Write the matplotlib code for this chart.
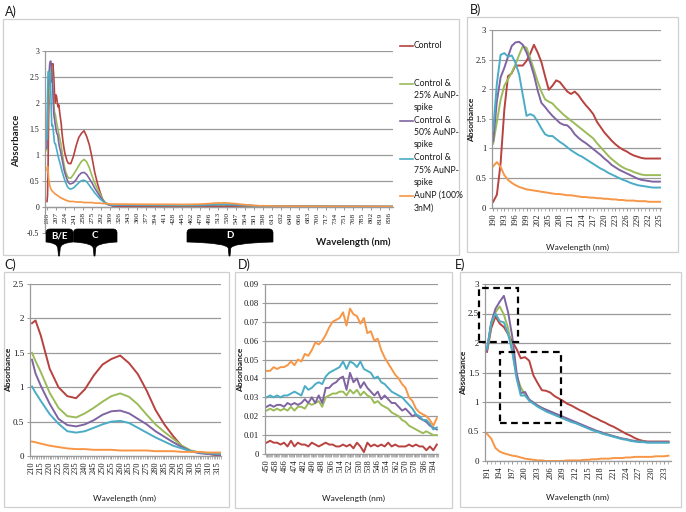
import matplotlib
matplotlib.use("Agg")
import matplotlib.pyplot as plt
from matplotlib.patches import Rectangle, PathPatch
from matplotlib.path import Path
from matplotlib.ticker import FuncFormatter, MultipleLocator

# ---------------- data ----------------
series_names = ['Control', 'Control &\n25% AuNP-\nspike', 'Control &\n50% AuNP-\nspike',
                'Control &\n75% AuNP-\nspike', 'AuNP (100%\n3nM)']
colors = ['#B8423F', '#9BBB59', '#8064A2', '#4BACC6', '#F79646']

# panel B : 190-235 nm, 1 nm steps
wl_B = list(range(190, 236))
B_control = [0.10, 0.22, 0.75, 1.65, 2.22, 2.27, 2.40, 2.40, 2.40, 2.48,
             2.60, 2.75, 2.62, 2.46, 2.22, 1.99, 2.06, 2.15, 2.12, 2.04,
             1.96, 1.92, 1.96, 1.90, 1.81, 1.73, 1.66, 1.58, 1.45, 1.36,
             1.27, 1.20, 1.13, 1.07, 1.02, 0.98, 0.95, 0.91, 0.88, 0.86,
             0.84, 0.83, 0.83, 0.83, 0.83, 0.83]
B_25 = [1.08, 1.45, 1.82, 2.06, 2.17, 2.28, 2.42, 2.58, 2.73, 2.70,
        2.52, 2.33, 2.13, 1.96, 1.83, 1.79, 1.76, 1.69, 1.63, 1.57,
        1.52, 1.47, 1.42, 1.37, 1.32, 1.27, 1.22, 1.17, 1.09, 1.02,
        0.95, 0.88, 0.82, 0.77, 0.72, 0.68, 0.65, 0.63, 0.60, 0.58,
        0.56, 0.55, 0.55, 0.55, 0.55, 0.55]
B_50 = [1.12, 1.80, 2.20, 2.36, 2.55, 2.73, 2.79, 2.80, 2.75, 2.62,
        2.45, 2.24, 1.98, 1.77, 1.70, 1.62, 1.55, 1.49, 1.43, 1.40,
        1.39, 1.33, 1.24, 1.18, 1.13, 1.09, 1.04, 0.99, 0.94, 0.89,
        0.83, 0.78, 0.72, 0.68, 0.64, 0.61, 0.58, 0.55, 0.52, 0.49,
        0.47, 0.46, 0.45, 0.44, 0.44, 0.44]
B_75 = [1.30, 2.10, 2.58, 2.61, 2.55, 2.57, 2.45, 2.25, 1.90, 1.55,
        1.58, 1.55, 1.45, 1.34, 1.24, 1.21, 1.21, 1.16, 1.11, 1.07,
        1.02, 0.97, 0.93, 0.89, 0.86, 0.82, 0.78, 0.74, 0.70, 0.66,
        0.63, 0.59, 0.56, 0.53, 0.50, 0.47, 0.45, 0.42, 0.40, 0.38,
        0.37, 0.36, 0.35, 0.34, 0.34, 0.34]
B_aunp = [0.70, 0.77, 0.69, 0.55, 0.47, 0.42, 0.38, 0.35, 0.33, 0.31,
          0.30, 0.29, 0.28, 0.27, 0.26, 0.25, 0.24, 0.23, 0.23, 0.22,
          0.21, 0.21, 0.20, 0.19, 0.18, 0.18, 0.17, 0.17, 0.16, 0.16,
          0.15, 0.15, 0.14, 0.14, 0.13, 0.13, 0.12, 0.12, 0.12, 0.11,
          0.11, 0.11, 0.10, 0.10, 0.10, 0.10]

# panel C : 210-317 nm
wl_C = [210, 212, 215, 220, 225, 230, 235, 240, 245, 250, 255, 260,
        265, 270, 275, 280, 285, 290, 295, 300, 305, 310, 315, 317]
C_control = [1.93, 1.97, 1.75, 1.27, 1.00, 0.87, 0.84, 0.97, 1.17, 1.33, 1.41, 1.46,
             1.35, 1.19, 0.95, 0.67, 0.46, 0.29, 0.14, 0.07, 0.05, 0.03, 0.01, 0.01]
C_25 = [1.50, 1.38, 1.22, 0.92, 0.70, 0.58, 0.56, 0.62, 0.70, 0.79, 0.87, 0.91,
        0.86, 0.75, 0.60, 0.46, 0.35, 0.25, 0.15, 0.08, 0.05, 0.04, 0.03, 0.03]
C_50 = [1.40, 1.20, 1.02, 0.76, 0.54, 0.45, 0.43, 0.46, 0.52, 0.60, 0.65, 0.66,
        0.62, 0.54, 0.46, 0.36, 0.28, 0.20, 0.13, 0.07, 0.04, 0.03, 0.02, 0.02]
C_75 = [1.01, 0.92, 0.80, 0.61, 0.47, 0.36, 0.34, 0.36, 0.41, 0.46, 0.50, 0.51,
        0.48, 0.41, 0.34, 0.27, 0.21, 0.15, 0.11, 0.07, 0.05, 0.04, 0.03, 0.03]
C_aunp = [0.21, 0.20, 0.18, 0.15, 0.13, 0.11, 0.10, 0.10, 0.09, 0.09, 0.09, 0.08,
          0.08, 0.08, 0.08, 0.07, 0.07, 0.07, 0.06, 0.06, 0.06, 0.05, 0.05, 0.05]

# panel D : 450-597 nm, 3 nm steps
wl_D = list(range(450, 598, 3))
D_control = [.006, .007, .006, .006, .005, .006, .004, .007, .004, .006,
             .005, .005, .004, .006, .005, .004, .005, .006, .005, .005,
             .004, .004, .005, .004, .005, .003, .006, .004, .001, .006,
             .004, .005, .004, .005, .004, .006, .004, .005, .004, .004,
             .004, .005, .004, .005, .004, .004, .002, .004, .002, .005]
D_25 = [.023, .024, .023, .024, .023, .024, .023, .025, .023, .025,
        .025, .024, .027, .026, .027, .028, .025, .030, .031, .032,
        .032, .033, .033, .031, .034, .032, .034, .031, .033, .031,
        .030, .027, .028, .026, .025, .024, .022, .021, .020, .018,
        .017, .015, .014, .013, .012, .011, .012, .011, .010, .010]
D_50 = [.025, .026, .025, .026, .026, .025, .027, .026, .027, .026,
        .027, .029, .027, .030, .027, .031, .027, .035, .035, .037,
        .038, .040, .041, .034, .043, .038, .040, .035, .038, .035,
        .033, .031, .033, .029, .031, .029, .027, .027, .025, .023,
        .024, .022, .020, .021, .019, .018, .017, .015, .014, .013]
D_75 = [.030, .031, .030, .031, .030, .031, .031, .032, .033, .032,
        .031, .036, .034, .035, .037, .038, .037, .041, .043, .044,
        .045, .046, .049, .045, .049, .048, .046, .049, .045, .044,
        .043, .040, .041, .038, .037, .035, .033, .032, .031, .030,
        .028, .026, .024, .021, .020, .018, .018, .016, .013, .014]
D_aunp = [.044, .044, .046, .045, .046, .046, .047, .049, .047, .050,
          .049, .053, .052, .055, .059, .058, .060, .063, .067, .070,
          .071, .072, .075, .068, .077, .074, .073, .069, .072, .064,
          .065, .060, .061, .055, .051, .048, .045, .042, .040, .037,
          .035, .030, .028, .024, .022, .021, .020, .018, .015, .019]

# flat stretches of panel A outside the zoomed windows
tail1_wl = [330, 360, 400, 440]
tail1 = [[0.010, 0.010, 0.008, 0.006], [0.030, 0.028, 0.026, 0.024],
         [0.030, 0.029, 0.027, 0.025], [0.035, 0.033, 0.031, 0.030],
         [0.050, 0.048, 0.046, 0.045]]
tail2_wl = [620, 680, 760, 844]
tail2 = [[0.004, 0.003, 0.002, 0.001], [0.008, 0.006, 0.004, 0.002],
         [0.009, 0.007, 0.004, 0.002], [0.010, 0.007, 0.005, 0.003],
         [0.012, 0.008, 0.005, 0.003]]

# panel E : 191-234 nm, 1 nm steps (replicate run)
wl_E = list(range(191, 235))
E_control = [1.85, 2.25, 2.45, 2.33, 2.27, 2.15, 2.02, 1.90, 1.74, 1.76,
             1.70, 1.45, 1.32, 1.20, 1.19, 1.16, 1.10, 1.06, 1.02, 0.97,
             0.94, 0.90, 0.86, 0.83, 0.79, 0.75, 0.72, 0.68, 0.65, 0.61,
             0.58, 0.54, 0.50, 0.46, 0.43, 0.39, 0.36, 0.34, 0.33, 0.33,
             0.33, 0.33, 0.33, 0.33]
E_25 = [1.88, 2.32, 2.52, 2.62, 2.48, 2.25, 1.85, 1.45, 1.25, 1.12,
        1.04, 0.99, 0.94, 0.90, 0.86, 0.83, 0.80, 0.77, 0.74, 0.71,
        0.68, 0.65, 0.62, 0.59, 0.56, 0.53, 0.51, 0.48, 0.46, 0.44,
        0.42, 0.40, 0.38, 0.37, 0.35, 0.34, 0.33, 0.33, 0.32, 0.32,
        0.32, 0.32, 0.32, 0.32]
E_50 = [1.88, 2.35, 2.58, 2.70, 2.80, 2.52, 2.10, 1.50, 1.15, 1.17,
        1.04, 0.99, 0.94, 0.90, 0.87, 0.84, 0.81, 0.78, 0.75, 0.72,
        0.69, 0.66, 0.63, 0.60, 0.57, 0.54, 0.51, 0.49, 0.46, 0.44,
        0.42, 0.40, 0.38, 0.37, 0.35, 0.34, 0.33, 0.33, 0.32, 0.32,
        0.32, 0.32, 0.32, 0.32]
E_75 = [1.90, 2.35, 2.50, 2.37, 2.35, 2.15, 1.85, 1.40, 1.11, 1.11,
        1.02, 0.97, 0.92, 0.88, 0.84, 0.81, 0.78, 0.75, 0.72, 0.69,
        0.66, 0.64, 0.61, 0.58, 0.55, 0.52, 0.50, 0.47, 0.45, 0.43,
        0.41, 0.39, 0.37, 0.36, 0.34, 0.33, 0.32, 0.32, 0.31, 0.31,
        0.31, 0.31, 0.31, 0.31]
E_aunp = [0.46, 0.38, 0.22, 0.16, 0.13, 0.11, 0.09, 0.08, 0.06, 0.04,
          0.03, 0.02, 0.01, 0.01, 0.00, 0.00, 0.00, 0.00, 0.00, 0.01,
          0.01, 0.01, 0.01, 0.02, 0.02, 0.03, 0.03, 0.04, 0.04, 0.04,
          0.05, 0.05, 0.05, 0.06, 0.06, 0.07, 0.07, 0.07, 0.07, 0.07,
          0.08, 0.08, 0.08, 0.09]

# dashed zoom boxes drawn on panel E: (x0, x1, y0, y1)
E_boxes = [(189.0, 198.4, 2.01, 2.94), (194.0, 208.5, 0.64, 1.84)]

# callout labels under panel A: (label, left px, right px, pointer px)
callouts = [('B/E', 46, 73, 59), ('C', 73.5, 117, 94.5), ('D', 187, 273, 229.5)]

# ---------------- styling ----------------
W, H = 686, 512
GRID = '#9a9a9a'
FRAME = '#cfcfcf'
TXT = '#1a1a1a'
SANS = ['Lato', 'DejaVu Sans']
SERIF = ['Liberation Serif', 'DejaVu Serif']

fig = plt.figure(figsize=(W / 100, H / 100), dpi=100)


def add_ax(x0, y0, x1, y1):
    return fig.add_axes([x0 / W, 1 - y1 / H, (x1 - x0) / W, (y1 - y0) / H])


def frame(x0, y0, x1, y1):
    fig.add_artist(Rectangle((x0 / W, 1 - y1 / H), (x1 - x0) / W, (y1 - y0) / H,
                             transform=fig.transFigure, fill=False,
                             edgecolor=FRAME, lw=0.9))


def ftext(x, y, s, **kw):
    fig.text(x / W, 1 - y / H, s, **kw)


def style(ax, xlim, ylim, xticks, yticks, minor=None, xfs=6, yfs=6.5, xaxis_at_zero=False):
    if xaxis_at_zero:
        ax.spines['bottom'].set_position(('data', 0))
    ax.set_xlim(xlim)
    ax.set_ylim(ylim)
    ax.set_xticks(xticks)
    ax.set_xticklabels([str(t) for t in xticks], rotation=90,
                       fontsize=xfs, family=SERIF, color=TXT)
    ax.set_yticks(yticks)
    ax.yaxis.set_major_formatter(FuncFormatter(lambda v, p: '%g' % round(v, 4)))
    for lab in ax.get_yticklabels():
        lab.set_family(SERIF)
        lab.set_fontsize(yfs)
        lab.set_color(TXT)
    ax.grid(axis='y', color=GRID, lw=0.9)
    ax.set_axisbelow(True)
    ax.spines['top'].set_visible(False)
    ax.spines['right'].set_visible(False)
    for s in ['left', 'bottom']:
        ax.spines[s].set_color(GRID)
        ax.spines[s].set_linewidth(0.9)
    ax.tick_params(which='major', color=GRID, length=2.5, width=0.7, pad=1.5)
    if minor:
        ax.xaxis.set_minor_locator(MultipleLocator(minor))
        ax.tick_params(which='minor', axis='x', color=GRID, length=2, width=0.5)
    ax.patch.set_alpha(0)


def plot_series(ax, wl, series, lw=1.4):
    for vals, c in zip(series, colors):
        ax.plot(wl, vals, color=c, lw=lw, solid_joinstyle='round')


def ylab(x, y, size=6):
    ftext(x, y, 'Absorbance', fontsize=size, fontweight='bold', family=SANS, color=TXT,
          rotation=90, ha='center', va='center')


def xlab(x, y):
    ftext(x, y, 'Wavelength (nm)', fontsize=6, family=SANS, color=TXT,
          ha='center', va='center')


# ---------------- panel A ----------------
frame(3, 19, 459, 255)
ftext(5, 12, 'A)', fontsize=9, family=SANS, color=TXT, va='center')
k = wl_C.index(240)
wl_A = wl_B + wl_C[k:] + tail1_wl + wl_D + tail2_wl
B_all = [B_control, B_25, B_50, B_75, B_aunp]
C_all = [C_control, C_25, C_50, C_75, C_aunp]
D_all = [D_control, D_25, D_50, D_75, D_aunp]
A_all = [b + c[k:] + t1 + d + t2 for b, c, t1, d, t2 in zip(B_all, C_all, tail1, D_all, tail2)]

axA = add_ax(45, 50.7, 393, 232.7)
style(axA, (186.2, 844), (-0.5, 3), list(range(190, 837, 17)),
      [-0.5, 0, 0.5, 1, 1.5, 2, 2.5, 3], xfs=5.4, yfs=5.6, xaxis_at_zero=True)
axA.get_ygridlines()[0].set_visible(False)
plot_series(axA, wl_A, A_all, lw=1.2)
ylab(17, 141, size=7)
ftext(390, 242, 'Wavelength (nm)', fontsize=7, fontweight='bold', family=SANS,
      color=TXT, ha='right', va='center')

# legend of panel A
for i, (name, c) in enumerate(zip(series_names, colors)):
    y = 46 + 37.5 * i
    fig.add_artist(plt.Line2D([400 / W, 413 / W], [1 - y / H, 1 - y / H],
                              transform=fig.transFigure, color=c, lw=1.2))
    ftext(414, y - 5, name, fontsize=6.2, family=SANS, color=TXT, va='top',
          linespacing=1.45)

# callout tags
for label, x0, x1, xc in callouts:
    top, yb, neck, tip, r = 229, 242, 248.5, 256, 4
    pts = [(x0 + r, top), (x1 - r, top), (x1, top), (x1, top + r), (x1, yb),
           (xc + 1.2, yb + 1), (xc + 1.2, neck), (xc + 0.5, tip), (xc - 0.5, tip),
           (xc - 1.2, neck), (xc - 1.2, yb + 1), (x0, yb), (x0, top + r),
           (x0, top), (x0 + r, top), (x0 + r, top)]
    codes = [Path.MOVETO, Path.LINETO, Path.CURVE3, Path.CURVE3, Path.LINETO,
             Path.CURVE3, Path.CURVE3, Path.LINETO, Path.LINETO, Path.LINETO,
             Path.CURVE3, Path.CURVE3, Path.LINETO, Path.CURVE3, Path.CURVE3,
             Path.CLOSEPOLY]
    verts = [(px / W, 1 - py / H) for px, py in pts]
    fig.add_artist(PathPatch(Path(verts, codes), transform=fig.transFigure,
                             facecolor='black', edgecolor='black', lw=0.5))
    ftext((x0 + x1) / 2, 236, label, fontsize=7, fontweight='bold', family=SANS,
          color='white', ha='center', va='center')

# ---------------- panel B ----------------
frame(467, 17, 678, 252)
ftext(470, 10, 'B)', fontsize=9, family=SANS, color=TXT, va='center')
axB = add_ax(491.7, 30, 660.7, 207.7)
style(axB, (189.6, 235.2), (0, 3), list(range(190, 236, 3)),
      [0, 0.5, 1, 1.5, 2, 2.5, 3], minor=1, yfs=6.2)
plot_series(axB, wl_B, B_all)
ylab(472, 120)
xlab(578, 247)

# ---------------- panel C ----------------
frame(4, 272, 229, 507)
ftext(4, 265, 'C)', fontsize=9, family=SANS, color=TXT, va='center')
axC = add_ax(29.7, 284, 221.3, 456)
style(axC, (208.7, 317.3), (0, 2.5), list(range(210, 316, 5)),
      [0, 0.5, 1, 1.5, 2, 2.5], minor=1)
plot_series(axC, wl_C, C_all)
ylab(9, 370)
xlab(125, 498)

# ---------------- panel D ----------------
frame(235, 272, 452, 508)
ftext(238, 265, 'D)', fontsize=9, family=SANS, color=TXT, va='center')
axD = add_ax(264.7, 284, 438.3, 454)
style(axD, (448.3, 598.3), (0, 0.09), list(range(450, 595, 8)),
      [0, 0.01, 0.02, 0.03, 0.04, 0.05, 0.06, 0.07, 0.08, 0.09], minor=1, yfs=6.2)
plot_series(axD, wl_D, D_all)
ylab(241, 370)
xlab(353, 498)

# ---------------- panel E ----------------
frame(460, 272, 681, 507)
ftext(455, 265, 'E)', fontsize=9, family=SANS, color=TXT, va='center')
axE = add_ax(484.7, 284, 671, 461)
style(axE, (190.45, 234.6), (0, 3), list(range(191, 234, 3)),
      [0, 0.5, 1, 1.5, 2, 2.5, 3], minor=1)
plot_series(axE, wl_E, [E_control, E_25, E_50, E_75, E_aunp])
for x0, x1, y0, y1 in E_boxes:
    axE.add_patch(Rectangle((x0, y0), x1 - x0, y1 - y0, fill=False, edgecolor='black',
                            lw=1.6, linestyle=(0, (3, 2)), clip_on=False, zorder=5))
ylab(464, 373)
xlab(578, 497)

fig.savefig('out.png', dpi=100)
